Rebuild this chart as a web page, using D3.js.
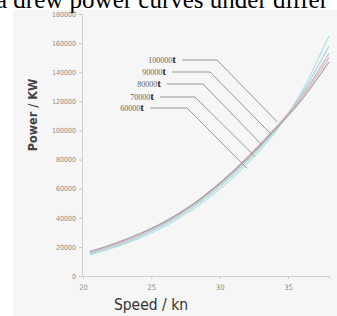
<!DOCTYPE html>
<html>
<head>
<meta charset="utf-8">
<script src="https://cdn.jsdelivr.net/npm/d3@7"></script>
<style>
  body { margin: 0; background: #fff; }
  svg { display: block; }
</style>
</head>
<body>
<svg id="chart" width="337" height="316"></svg>
<script>
// speeds (kn)
const speeds = [20.5, 22, 24, 26, 28, 30, 32, 34, 36, 38];
// power (kW) for each displacement
const p100000 = [17000, 21300, 28500, 37500, 49000, 63500, 80500, 100000, 121000, 147000];
const p90000  = [16500, 20800, 28000, 37200, 49000, 64000, 81500, 101000, 122500, 150000];
const p80000  = [16000, 20300, 27400, 36500, 48200, 63000, 80500, 100500, 123500, 153000];
const p70000  = [15300, 19600, 26500, 35500, 47000, 61500, 79000, 99500, 125000, 158000];
const p60000  = [14500, 18700, 25500, 34200, 45500, 59500, 77000, 98000, 126500, 165000];
const seriesNames = ["100000", "90000", "80000", "70000", "60000"];
const seriesValues = [p100000, p90000, p80000, p70000, p60000];
// where each leader line touches the curves (speed, power)
const leaderSpeed = [34.2, 33.7, 33.1, 32.6, 32.0];
const leaderPower = [106000, 98000, 90000, 82000, 74000];

const xTicks = [20, 25, 30, 35];
const yTicks = [0, 20000, 40000, 60000, 80000, 100000, 120000, 140000, 160000, 180000];

const colors = ["#a3a3a3", "#e3b3c0", "#cbbfdc", "#acd6cf", "#aee3e6"];

const svg = d3.select("#chart");

// light panel behind the chart
svg.append("rect")
    .attr("x", 13).attr("y", 10)
    .attr("width", 324).attr("height", 306)
    .attr("fill", "#f6f6f6");

// cut-off caption at the top
svg.append("text")
    .attr("x", -4).attr("y", 7.5)
    .attr("font-family", "Liberation Serif, Times New Roman, serif")
    .attr("font-size", 25)
    .attr("fill", "#000")
    .text("a drew power curves under differ");

const x = d3.scaleLinear().domain([20, 38]).range([83, 329]);
const y = d3.scaleLinear().domain([0, 180000]).range([276, 14]);

// y axis
const yAxis = svg.append("g")
    .attr("transform", "translate(82,0)")
    .call(d3.axisLeft(y).tickValues(yTicks).tickFormat(d3.format("d")).tickSize(3).tickPadding(3));
yAxis.select(".domain").attr("stroke", "#d0d0d0");
yAxis.selectAll(".tick line").attr("stroke", "#c8c8c8");
yAxis.selectAll("text")
    .attr("fill", "#8a8a8a")
    .attr("font-family", "DejaVu Sans Condensed, DejaVu Sans, sans-serif")
    .attr("font-size", 7);

// x axis
const xAxis = svg.append("g")
    .attr("transform", "translate(0,276)")
    .call(d3.axisBottom(x).tickValues(xTicks).tickSize(3).tickPadding(6));
xAxis.select(".domain").attr("stroke", "#d0d0d0");
xAxis.selectAll(".tick line").attr("stroke", "#c8c8c8");
xAxis.selectAll("text")
    .attr("fill", "#8a8a8a")
    .attr("font-family", "DejaVu Sans Condensed, DejaVu Sans, sans-serif")
    .attr("font-size", 7.5);

// axis titles
svg.append("text")
    .attr("transform", "translate(37,115) rotate(-90)")
    .attr("text-anchor", "middle")
    .attr("font-family", "DejaVu Sans Condensed, DejaVu Sans, sans-serif")
    .attr("font-weight", "bold")
    .attr("font-size", 12.5)
    .attr("fill", "#444")
    .text("Power / KW");

svg.append("text")
    .attr("x", 151).attr("y", 310)
    .attr("text-anchor", "middle")
    .attr("font-family", "DejaVu Sans Condensed, DejaVu Sans, sans-serif")
    .attr("font-size", 15.5)
    .attr("fill", "#333")
    .text("Speed / kn");

// curves
const line = d3.line()
    .x((d, i) => x(speeds[i]))
    .y(d => y(d))
    .curve(d3.curveMonotoneX);

svg.append("g").selectAll("path")
    .data(seriesValues.slice().reverse())
    .enter()
    .append("path")
    .attr("d", line)
    .attr("fill", "none")
    .attr("stroke", (d, i) => colors.slice().reverse()[i])
    .attr("stroke-width", 1.2);

// leader lines and labels
const labelY = [60, 72, 84, 97, 108];
const labelEnd = [176, 166, 161, 154, 144];
const elbowX = [217, 210, 203, 195, 187];

const labels = svg.append("g");
seriesNames.forEach((name, i) => {
    labels.append("polyline")
        .attr("points", [
            [labelEnd[i] + 6, labelY[i]],
            [elbowX[i], labelY[i]],
            [x(leaderSpeed[i]), y(leaderPower[i])]
        ].map(p => p.join(",")).join(" "))
        .attr("fill", "none")
        .attr("stroke", "#999")
        .attr("stroke-width", 1);

    const t = labels.append("text")
        .attr("x", labelEnd[i]).attr("y", labelY[i] + 3)
        .attr("text-anchor", "end");
    t.append("tspan")
        .attr("font-family", "Liberation Serif, serif")
        .attr("font-size", 8)
        .attr("fill", "#666")
        .text(name);
    t.append("tspan")
        .attr("font-family", "Liberation Serif, serif")
        .attr("font-weight", "bold")
        .attr("font-size", 11)
        .attr("fill", "#333")
        .text("t");
});
</script>
</body>
</html>
